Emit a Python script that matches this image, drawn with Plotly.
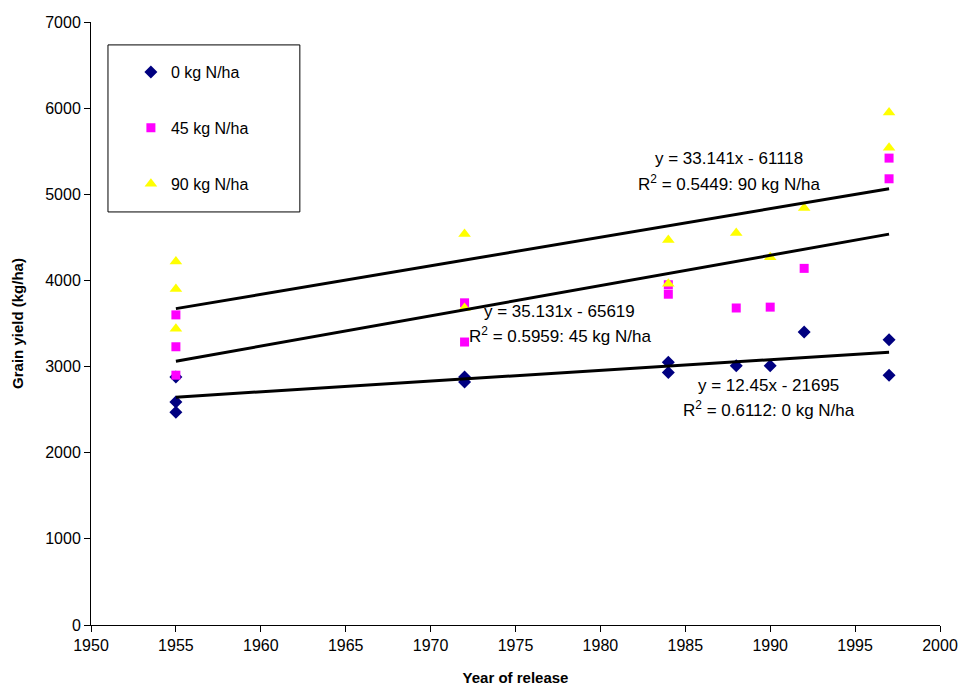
import plotly.graph_objects as go

# ---- data ----
years_0 = [1955, 1955, 1955, 1972, 1972, 1984, 1984, 1988, 1990, 1992, 1997, 1997]
yield_0 = [2880, 2590, 2470, 2880, 2820, 3050, 2930, 3010, 3010, 3400, 3310, 2900]

years_45 = [1955, 1955, 1955, 1972, 1972, 1984, 1984, 1988, 1990, 1992, 1997, 1997]
yield_45 = [3600, 3230, 2900, 3740, 3285, 3950, 3840, 3680, 3690, 4140, 5420, 5180]

years_90 = [1955, 1955, 1955, 1972, 1972, 1984, 1984, 1988, 1990, 1992, 1997, 1997]
yield_90 = [4220, 3900, 3440, 4540, 3680, 4470, 3960, 4550, 4270, 4840, 5950, 5540]

series_names = ["0 kg N/ha", "45 kg N/ha", "90 kg N/ha"]
slopes = [12.45, 35.131, 33.141]
intercepts = [-21695, -65619, -61118]
r2_values = [0.6112, 0.5959, 0.5449]

# label anchor positions (data coords)
label_x = [1989.9, 1977.6, 1987.6]
label_y_eq = [2786, 3634, 5421]
label_y_r2 = [2508, 3367, 5131]

FONT = "Liberation Sans, Arial, sans-serif"

fig = go.Figure()

styles = [
    dict(symbol="diamond", color="#000080", size=10),
    dict(symbol="square", color="#FF00FF", size=9),
    dict(symbol="triangle-up", color="#FFFF00", size=11),
]
xs_all = [years_0, years_45, years_90]
ys_all = [yield_0, yield_45, yield_90]

for i in range(3):
    st = styles[i]
    fig.add_trace(go.Scatter(
        x=xs_all[i], y=ys_all[i], mode="markers", name=series_names[i],
        legendgroup=series_names[i],
        marker=dict(symbol=st["symbol"], color=st["color"], size=st["size"],
                    line=dict(color=st["color"], width=0)),
    ))

# trend lines (drawn over markers)
for i in range(3):
    x0, x1 = min(xs_all[i]), max(xs_all[i])
    fig.add_trace(go.Scatter(
        x=[x0, x1],
        y=[slopes[i] * x0 + intercepts[i], slopes[i] * x1 + intercepts[i]],
        mode="lines", line=dict(color="black", width=3),
        showlegend=False, hoverinfo="skip",
    ))

def fmt_eq(s, b):
    sign = "-" if b < 0 else "+"
    return f"y = {s:g}x {sign} {abs(b):g}"

for i in range(3):
    fig.add_annotation(x=label_x[i], y=label_y_eq[i], xref="x", yref="y",
                       text=fmt_eq(slopes[i], intercepts[i]), showarrow=False,
                       font=dict(family=FONT, size=17, color="black"))
    fig.add_annotation(x=label_x[i], y=label_y_r2[i], xref="x", yref="y",
                       text=f"R<sup>2</sup> = {r2_values[i]:.4f}: {series_names[i]}",
                       showarrow=False,
                       font=dict(family=FONT, size=17, color="black"))

# legend frame
fig.add_shape(type="rect", xref="paper", yref="paper",
              x0=0.02, x1=0.246, y0=0.685, y1=0.962,
              line=dict(color="black", width=1), fillcolor="white", layer="below")

fig.update_layout(
    width=961, height=687,
    margin=dict(l=91, r=21, t=22, b=62),
    paper_bgcolor="white", plot_bgcolor="white",
    font=dict(family=FONT, size=16, color="black"),
    showlegend=True,
    legend=dict(x=0.047, y=0.945, xanchor="left", yanchor="top",
                bgcolor="rgba(0,0,0,0)", borderwidth=0,
                tracegroupgap=32, traceorder="grouped",
                itemwidth=30, font=dict(family=FONT, size=16)),
    xaxis=dict(range=[1950, 2000], dtick=5, tick0=1950, showgrid=False,
               zeroline=False, showline=True, linecolor="black", linewidth=1,
               ticks="outside", ticklen=6, tickcolor="black", automargin=False,
               tickfont=dict(family=FONT, size=16),
               title=dict(text="<b>Year of release</b>", standoff=19,
                          font=dict(family=FONT, size=15))),
    yaxis=dict(range=[0, 7000], dtick=1000, showgrid=False,
               zeroline=False, showline=True, linecolor="black", linewidth=1,
               ticks="outside", ticklen=6, tickcolor="black", automargin=False,
               tickfont=dict(family=FONT, size=16),
               title=dict(text="<b>Grain yield (kg/ha)</b>", standoff=17,
                          font=dict(family=FONT, size=15))),
)

fig.write_html(
    "out.html",
    config={"displayModeBar": False},
    post_script="document.body.style.margin='0';document.body.style.overflow='hidden';",
)
